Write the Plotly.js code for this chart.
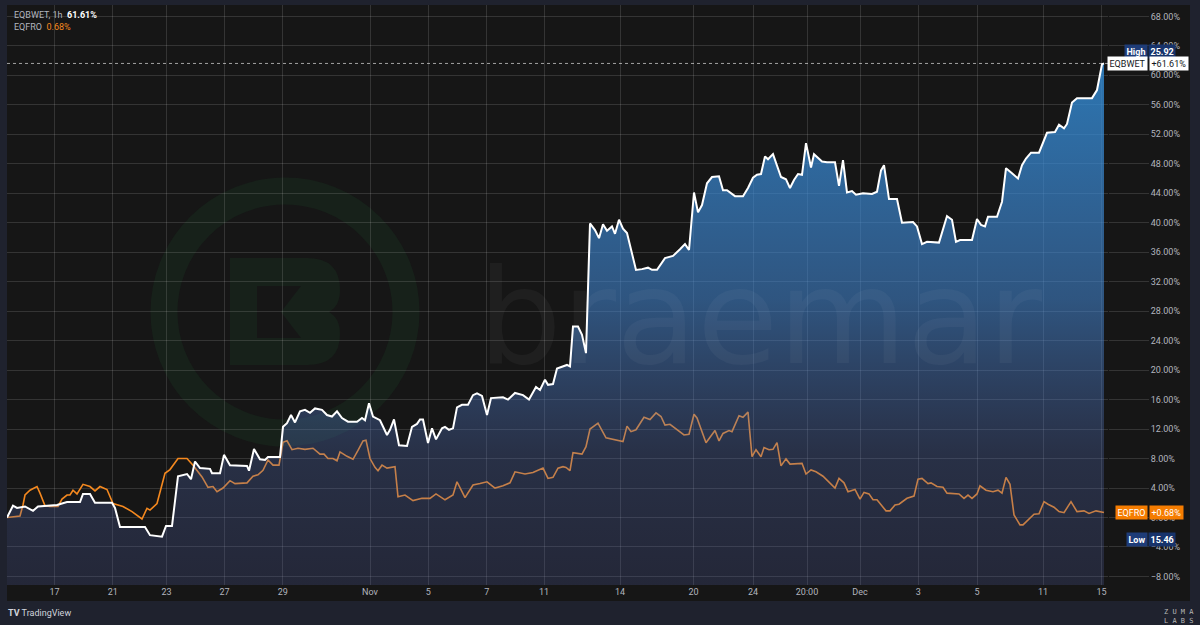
<!DOCTYPE html>
<html><head><meta charset="utf-8">
<script src="https://cdn.plot.ly/plotly-3.0.1.min.js"></script>
<style>html,body{margin:0;padding:0;background:#1f222e;}#chart{width:1200px;height:625px;}</style>
</head><body><div id="chart"></div>
<script>
// ---- data (time index along the session-compressed hourly axis, % change) ----
const eqbwetT = [
  0,6,10,18,26,31,50,60,73,76,
  83,88,105,108,113,125,138,143,155,159,
  165,171,180,184,188,193,203,205,213,217,
  223,240,242,247,253,258,261,270,273,276,
  280,284,288,293,298,303,308,315,320,325,
  330,335,341,350,355,358,362,366,373,380,
  383,387,392,400,405,410,413,416,421,425,
  429,435,438,442,446,450,455,461,466,470,
  475,480,484,496,501,508,516,522,529,533,
  538,541,546,550,556,560,563,566,571,575,
  579,583,588,592,596,600,605,608,612,616,
  620,629,635,641,645,650,658,666,673,678,
  682,687,691,695,700,705,712,716,720,728,
  736,741,746,750,754,758,761,766,774,779,
  783,787,791,795,799,804,807,815,820,828,
  832,836,840,845,849,856,865,870,874,877,
  882,890,895,906,910,915,920,932,940,945,
  949,953,965,970,974,978,981,990,995,999,
  1005,1011,1015,1019,1024,1032,1040,1048,1052,1057,
  1060,1065,1070,1085,1090,1095,1097];
const eqbwetPct = [
  0,1.6,1.3,1.5,0.9,1.5,1.7,2.1,2.1,3.2,
  3.2,2.0,2.0,1.3,-1.3,-1.25,-1.3,-2.4,-2.6,-1.15,
  -1.15,5.6,5.9,5.2,7.6,6.7,6.6,6.0,6.0,8.5,
  7.1,7.0,6.35,9.3,7.9,7.8,8.2,8.2,8.2,12.3,
  12.8,13.9,12.9,14.4,14.6,14.2,14.8,14.6,13.9,13.7,
  14.4,13.5,13.0,13.0,13.5,13.2,15.5,13.7,13.2,11.2,
  11.9,13.3,9.8,9.7,12.3,12.7,13.3,13.3,10.1,12.1,
  10.6,12.1,12.3,11.9,12.1,14.95,15.3,15.3,16.6,16.85,
  16.5,13.9,16.2,16.3,16.0,16.9,16.6,16.0,17.7,17.3,
  18.7,18.0,18.1,20.2,20.5,20.7,20.5,25.9,25.9,24.8,
  22.3,39.9,39.0,37.9,39.8,38.9,39.5,38.5,40.4,39.2,
  38.6,33.6,33.7,33.9,33.6,33.6,35.2,35.5,36.4,37.1,
  36.3,44.1,41.4,42.4,45.35,46.2,46.3,44.4,44.4,43.6,
  43.6,44.7,46.1,46.5,46.6,49.0,48.6,49.3,46.2,45.9,
  44.7,45.8,46.6,46.5,50.8,47.5,49.3,48.3,48.2,48.2,
  45.0,48.5,44.1,44.3,43.8,44.0,43.9,44.2,47.1,47.8,
  43.2,43.2,40.0,40.1,39.5,37.1,37.4,37.3,40.9,40.4,
  37.4,37.65,37.65,40.5,39.7,39.5,40.8,40.8,42.85,47.4,
  46.7,46.0,47.8,48.7,49.5,49.5,52.2,52.3,53.3,52.8,
  53.4,56.3,56.9,56.9,58.0,61.5,61.61];

const eqfroT = [
  0,6,13,16,18,23,30,33,38,43,
  51,55,60,63,66,70,76,83,88,93,
  100,106,116,125,135,140,143,150,158,163,
  171,180,186,195,201,206,210,216,223,228,
  240,246,251,256,261,266,272,276,280,285,
  291,298,306,313,317,321,326,330,333,340,
  346,351,356,359,363,368,371,375,380,388,
  391,398,406,415,423,429,438,446,450,458,
  466,473,480,488,496,503,508,518,526,536,
  541,546,551,556,559,563,566,575,579,583,
  591,599,609,616,620,624,629,637,643,649,
  654,658,663,677,682,687,690,699,708,712,
  716,722,725,732,736,741,745,749,754,757,
  762,766,770,774,779,783,795,799,804,809,
  816,823,828,832,837,841,848,853,857,862,
  866,870,879,883,888,892,900,907,911,915,
  921,924,930,936,940,952,957,961,965,970,
  973,979,986,991,995,999,1003,1007,1013,1016,
  1022,1027,1032,1037,1041,1047,1052,1057,1064,1070,
  1077,1082,1089,1097];
const eqfroPct = [
  0,0.05,0.2,1.7,3.05,3.7,4.2,3.3,1.6,1.5,
  1.5,2.5,3.05,3.05,3.7,3.2,4.5,4.2,3.6,4.2,
  3.8,1.9,1.5,0.8,-0.2,1.25,1.0,1.9,6.0,6.5,
  8.0,8.0,7.1,5.5,4.1,4.2,3.5,4.0,5.0,4.6,
  4.7,5.6,5.8,6.4,7.8,7.1,7.1,10.2,10.4,9.2,
  9.4,9.25,9.4,8.6,8.6,8.0,8.0,7.7,8.9,8.3,
  7.9,9.1,10.4,10.5,8.0,6.8,6.35,7.1,6.7,6.9,
  2.8,3.05,2.3,2.6,2.6,3.2,2.4,3.05,4.85,2.7,
  4.4,4.6,4.85,4.0,4.3,4.7,6.2,5.9,6.1,6.7,
  5.3,5.45,6.7,6.9,6.8,6.35,8.8,8.6,9.6,12.0,
  12.8,10.8,10.5,10.3,12.4,11.65,11.9,13.6,13.3,14.2,
  13.7,12.55,12.65,11.2,11.3,14.0,13.5,10.15,11.8,10.4,
  11.4,11.8,11.65,13.8,13.6,14.3,8.25,9.2,8.25,9.5,
  9.2,9.25,10.15,7.0,7.95,7.25,7.35,5.9,6.45,6.2,
  5.6,4.7,4.0,5.3,4.7,3.5,3.8,2.5,3.4,3.2,
  2.4,2.4,0.9,0.9,1.7,1.8,2.6,2.9,5.2,5.3,
  4.6,4.7,4.2,4.1,3.3,3.2,2.6,3.05,2.6,3.2,
  4.3,3.7,3.5,3.7,3.3,5.45,4.5,0.35,-1.0,-1.0,
  -0.25,0.45,0.5,2.15,1.8,1.4,0.8,0.65,2.15,0.8,
  0.9,0.55,0.9,0.68];

const tickPos  = [47.5,105.7,159.5,217.5,275.7,363,421.3,479.7,537,613,686.5,746,800,853,911.3,970,1036,1094.5];
const tickText = ['17','21','23','27','29','Nov','5','7','11','14','20','24','20:00','Dec','3','5','11','15'];
const highLabel = '25.92';
const lowLabel  = '15.46';

// ---- layout helpers ----
const W = 1200, H = 625, M = {l:7, r:92, t:5, b:40};
const PW = W - M.l - M.r, PH = H - M.t - M.b;
const px2x = px => (px - M.l) / PW;
const py2y = py => (H - M.b - py) / PH;
const yMin = -9.16, yMax = 69.54;

const lastW = eqbwetPct[eqbwetPct.length - 1];
const lastF = eqfroPct[eqfroPct.length - 1];
const fmt = v => (v >= 0 ? '+' : '') + v.toFixed(2) + '%';

const gridC = 'rgba(255,255,255,0.13)';
const WHITE = '#ffffff', ORANGE = '#f5891f';
const LOGO = '#17211a';

const traces = [
  {x: eqfroT, y: eqfroPct, mode: 'lines', line: {color: ORANGE, width: 1.6},
   hoverinfo: 'skip', showlegend: false},
  {x: [eqbwetT[0], eqbwetT[eqbwetT.length - 1]], y: [yMin - 0.2, yMin - 0.2], mode: 'lines',
   line: {width: 0, color: 'rgba(0,0,0,0)'}, hoverinfo: 'skip', showlegend: false},
  {x: eqbwetT, y: eqbwetPct, mode: 'lines', line: {color: WHITE, width: 2},
   fill: 'tonexty',
   fillgradient: {type: 'vertical', colorscale: [
     [0, 'rgba(78,90,158,0.25)'],
     [0.25, 'rgba(82,109,182,0.30)'],
     [0.55, 'rgba(67,137,215,0.55)'],
     [1, 'rgba(50,142,217,0.80)']]},
   hoverinfo: 'skip', showlegend: false}
];

const tickFont = {family: 'Roboto, sans-serif', size: 9, color: '#b2b5be'};
const badgeFont = (c) => ({family: 'Roboto, sans-serif', size: 9, color: c});

const cx = 285, cy = 312;
const shapes = [
  {type: 'rect', xref: 'paper', yref: 'paper', x0: px2x(7), x1: px2x(1190), y0: py2y(601), y1: py2y(5),
   fillcolor: '#161616', line: {width: 0}, layer: 'below'},
  {type: 'circle', xref: 'paper', yref: 'paper', xsizemode: 'pixel', ysizemode: 'pixel',
   xanchor: px2x(cx), yanchor: py2y(cy), x0: -121, x1: 121, y0: -121, y1: 121,
   line: {color: LOGO, width: 27}, fillcolor: 'rgba(0,0,0,0)', layer: 'below'},
  {type: 'path', xref: 'paper', yref: 'paper', xsizemode: 'pixel', ysizemode: 'pixel',
   xanchor: px2x(cx), yanchor: py2y(cy),
   path: 'M-55,54 L22,54 Q55,54 55,22 Q55,6 44,0 Q55,-6 55,-22 Q55,-53 22,-53 L-55,-53 Z',
   fillcolor: LOGO, line: {width: 0}, layer: 'below'},
  {type: 'path', xref: 'paper', yref: 'paper', xsizemode: 'pixel', ysizemode: 'pixel',
   xanchor: px2x(cx), yanchor: py2y(cy),
   path: 'M-28,26 L16,26 L-4,0 L16,-26 L-28,-26 Z',
   fillcolor: '#161616', line: {width: 0}, layer: 'below'},
  {type: 'line', xref: 'paper', yref: 'y', x0: 0, x1: px2x(1113), y0: lastW, y1: lastW,
   line: {color: 'rgba(255,255,255,0.6)', width: 1, dash: 'dot'}, layer: 'above'}
];

const annotations = [
  // watermark text
  {xref: 'paper', yref: 'paper', x: px2x(760), y: py2y(317), xanchor: 'center', yanchor: 'middle',
   text: 'braemar', showarrow: false,
   font: {family: 'DejaVu Sans', size: 132, weight: 400, color: 'rgba(255,255,255,0.04)'}},
  // header
  {xref: 'paper', yref: 'paper', x: px2x(12), y: py2y(15), xanchor: 'left', yanchor: 'middle', showarrow: false,
   text: 'EQBWET, 1h  <span style="color:#ffffff"><b>' + lastW.toFixed(2) + '%</b></span>',
   font: {family: 'Roboto, sans-serif', size: 9, color: '#b2b5be'}},
  {xref: 'paper', yref: 'paper', x: px2x(12), y: py2y(27), xanchor: 'left', yanchor: 'middle', showarrow: false,
   text: 'EQFRO  <span style="color:' + ORANGE + '">' + lastF.toFixed(2) + '%</span>',
   font: {family: 'Roboto, sans-serif', size: 9, color: '#b2b5be'}},
  // High badge
  {xref: 'paper', yref: 'y', x: px2x(1148), y: lastW, yshift: 12, xanchor: 'right', yanchor: 'middle',
   showarrow: false, text: '<b>High</b>', bgcolor: '#1e3c78', borderpad: 1.5, font: badgeFont('#ffffff')},
  {xref: 'paper', yref: 'y', x: px2x(1148), y: lastW, yshift: 12, xanchor: 'left', yanchor: 'middle',
   showarrow: false, text: '<b>' + highLabel + '</b>', bgcolor: '#17336b', borderpad: 1.5, font: badgeFont('#ffffff')},
  // EQBWET badge
  {xref: 'paper', yref: 'y', x: px2x(1148), y: lastW, xanchor: 'right', yanchor: 'middle',
   showarrow: false, text: 'EQBWET', bgcolor: '#ffffff', borderpad: 1.5, font: badgeFont('#131722')},
  {xref: 'paper', yref: 'y', x: px2x(1148.5), y: lastW, xanchor: 'left', yanchor: 'middle',
   showarrow: false, text: fmt(lastW), bgcolor: '#ffffff', borderpad: 1.5, font: badgeFont('#131722')},
  // EQFRO badge
  {xref: 'paper', yref: 'y', x: px2x(1148), y: lastF, xanchor: 'right', yanchor: 'middle',
   showarrow: false, text: 'EQFRO', bgcolor: '#f57c00', borderpad: 1.5, font: badgeFont('#ffffff')},
  {xref: 'paper', yref: 'y', x: px2x(1148.5), y: lastF, xanchor: 'left', yanchor: 'middle',
   showarrow: false, text: fmt(lastF), bgcolor: '#f57c00', borderpad: 1.5, font: badgeFont('#ffffff')},
  // Low badge
  {xref: 'paper', yref: 'y', x: px2x(1148), y: lastF, yshift: -27, xanchor: 'right', yanchor: 'middle',
   showarrow: false, text: '<b>Low</b>', bgcolor: '#1e3c78', borderpad: 1.5, font: badgeFont('#ffffff')},
  {xref: 'paper', yref: 'y', x: px2x(1148), y: lastF, yshift: -27, xanchor: 'left', yanchor: 'middle',
   showarrow: false, text: '<b>' + lowLabel + '</b>', bgcolor: '#17336b', borderpad: 1.5, font: badgeFont('#ffffff')},
  // footer
  {xref: 'paper', yref: 'paper', x: px2x(6), y: py2y(613), xanchor: 'left', yanchor: 'middle', showarrow: false,
   text: '<b>TV</b> TradingView', font: {family: 'Roboto, sans-serif', size: 9, color: '#d1d4dc'}},
  {xref: 'paper', yref: 'paper', x: px2x(1179), y: py2y(616), xanchor: 'center', yanchor: 'middle', showarrow: false,
   text: 'Z U M A<br>L A B S', font: {family: 'DejaVu Sans Mono', size: 7, color: '#b8b8b8'}}
];

const layout = {
  width: W, height: H, margin: M,
  paper_bgcolor: '#1f222e', plot_bgcolor: 'rgba(0,0,0,0)',
  showlegend: false, hovermode: false, dragmode: false,
  xaxis: {range: [0, PW], tickvals: tickPos, ticktext: tickText, showgrid: true, gridcolor: gridC,
          gridwidth: 1, zeroline: false, showline: false, ticks: '', tickfont: tickFont, fixedrange: true},
  yaxis: {side: 'right', range: [yMin, yMax], tick0: 0, dtick: 4, tickformat: '.2f', ticksuffix: '%',
          showgrid: true, gridcolor: gridC, gridwidth: 1, zeroline: false, showline: false,
          ticks: 'outside', ticklen: 40, tickcolor: gridC, tickfont: tickFont, fixedrange: true},
  shapes: shapes, annotations: annotations
};

Plotly.newPlot('chart', traces, layout, {staticPlot: true, displayModeBar: false});
</script></body></html>
